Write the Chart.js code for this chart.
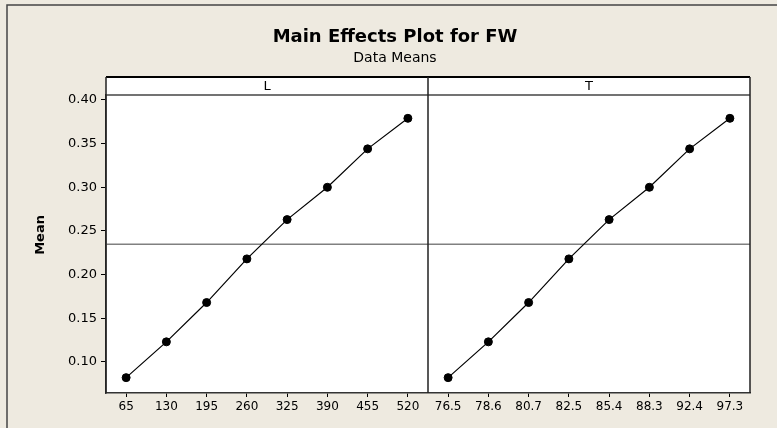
<!DOCTYPE html>
<html>
<head>
<meta charset="utf-8">
<script src="https://cdn.jsdelivr.net/npm/chart.js@4.4.0/dist/chart.umd.min.js"></script>
<style>
html, body { margin: 0; padding: 0; background: #EEEAE0; }
#wrap { width: 777px; height: 428px; }
</style>
</head>
<body>
<div id="wrap"><canvas id="grafico"></canvas></div>
<script>
// niveis de cada fator
const niveis_L = ['65', '130', '195', '260', '325', '390', '455', '520'];
const niveis_T = ['76.5', '78.6', '80.7', '82.5', '85.4', '88.3', '92.4', '97.3'];

// medias
const medias_L = [0.082, 0.123, 0.168, 0.218, 0.263, 0.300, 0.344, 0.379];
const medias_T = [0.082, 0.123, 0.168, 0.218, 0.263, 0.300, 0.344, 0.379];

const paineis = ['L', 'T'];

const vazio = niveis_L.map(() => null);
const labels = niveis_L.concat(niveis_T);
const dados_L = medias_L.concat(vazio);
const dados_T = vazio.concat(medias_T);

const todas = medias_L.concat(medias_T);
const media_geral = todas.reduce((s, v) => s + v, 0) / todas.length;

const fonte = 'DejaVu Sans';

const fundo = {
    id: 'fundo',
    beforeDraw(chart) {
        const { ctx, chartArea: a, width, height } = chart;
        ctx.save();
        ctx.fillStyle = '#EEEAE0';
        ctx.fillRect(0, 0, width, height);
        ctx.strokeStyle = '#444';
        ctx.lineWidth = 1.5;
        ctx.beginPath();
        ctx.moveTo(7, height);
        ctx.lineTo(7, 5);
        ctx.lineTo(width, 5);
        ctx.stroke();
        ctx.fillStyle = '#fff';
        ctx.fillRect(a.left, a.top, a.right - a.left, a.bottom - a.top);
        ctx.restore();
    }
};

const linha_media = {
    id: 'linha_media',
    beforeDatasetsDraw(chart) {
        const { ctx, chartArea: a } = chart;
        const y = chart.scales.y.getPixelForValue(media_geral);
        ctx.save();
        ctx.strokeStyle = '#808080';
        ctx.lineWidth = 1.5;
        ctx.beginPath();
        ctx.moveTo(a.left, y);
        ctx.lineTo(a.right, y);
        ctx.stroke();
        ctx.restore();
    }
};

const cabecalho = {
    id: 'cabecalho',
    afterDraw(chart) {
        const { ctx, chartArea: a } = chart;
        const x = chart.scales.x;
        const meio = (x.getPixelForValue(niveis_L.length - 1) + x.getPixelForValue(niveis_L.length)) / 2;
        const topo = a.top - 18;
        ctx.save();
        ctx.fillStyle = '#fff';
        ctx.fillRect(a.left, topo, a.right - a.left, 18);
        ctx.strokeStyle = '#000';
        ctx.lineWidth = 2;
        ctx.beginPath();
        ctx.moveTo(a.left, topo);
        ctx.lineTo(a.right, topo);
        ctx.stroke();
        ctx.strokeStyle = '#444';
        ctx.lineWidth = 1.5;
        ctx.beginPath();
        ctx.moveTo(a.left, a.top);
        ctx.lineTo(a.right, a.top);
        ctx.stroke();
        ctx.strokeStyle = '#222';
        ctx.lineWidth = 1.5;
        ctx.beginPath();
        ctx.moveTo(a.left, topo);
        ctx.lineTo(a.left, a.bottom);
        ctx.moveTo(meio, topo);
        ctx.lineTo(meio, a.bottom);
        ctx.moveTo(a.right, topo);
        ctx.lineTo(a.right, a.bottom);
        ctx.stroke();
        ctx.fillStyle = '#000';
        ctx.font = '13px "' + fonte + '"';
        ctx.textAlign = 'center';
        ctx.textBaseline = 'middle';
        ctx.fillText(paineis[0], (a.left + meio) / 2, topo + 9.5);
        ctx.fillText(paineis[1], (meio + a.right) / 2, topo + 9.5);
        ctx.restore();
    }
};

const config = {
    type: 'line',
    data: {
        labels: labels,
        datasets: [{
            label: paineis[0],
            data: dados_L,
            borderColor: '#000',
            backgroundColor: '#000',
            borderWidth: 1.2,
            pointRadius: 4,
            pointBorderWidth: 1,
            spanGaps: false
        }, {
            label: paineis[1],
            data: dados_T,
            borderColor: '#000',
            backgroundColor: '#000',
            borderWidth: 1.2,
            pointRadius: 4,
            pointBorderWidth: 1,
            spanGaps: false
        }]
    },
    options: {
        responsive: true,
        maintainAspectRatio: false,
        animation: false,
        layout: {
            padding: { left: 40, right: 27, top: 0, bottom: 0 }
        },
        scales: {
            x: {
                type: 'category',
                offset: true,
                grid: { offset: false, drawOnChartArea: false, tickLength: 4, color: '#000' },
                border: { color: '#333', width: 1.5 },
                ticks: {
                    autoSkip: false,
                    maxRotation: 0,
                    padding: 3,
                    color: '#000',
                    font: { size: 12, family: fonte }
                },
                afterFit(scale) { scale.height = 35; }
            },
            y: {
                min: 0.0644,
                max: 0.4057,
                grid: { drawOnChartArea: false, tickLength: 5, color: '#000' },
                border: { color: '#333', width: 1.5 },
                ticks: {
                    stepSize: 0.05,
                    includeBounds: false,
                    padding: 4,
                    color: '#000',
                    font: { size: 13, family: fonte },
                    callback: v => v.toFixed(2)
                },
                title: {
                    display: true,
                    text: '    Mean',
                    color: '#000',
                    padding: { top: -7, bottom: 0 },
                    font: { size: 13, weight: 'bold', family: fonte }
                },
                afterFit(scale) { scale.width = 66; }
            }
        },
        plugins: {
            legend: { display: false },
            tooltip: { enabled: false },
            title: {
                display: true,
                text: 'Main Effects Plot for FW',
                color: '#000',
                padding: { top: 27, bottom: 0 },
                font: { size: 18, weight: 'bold', family: fonte }
            },
            subtitle: {
                display: true,
                text: 'Data Means',
                color: '#000',
                padding: { top: 1, bottom: 28.6 },
                font: { size: 14, family: fonte }
            }
        }
    },
    plugins: [fundo, linha_media, cabecalho]
};

const grafico = new Chart(document.getElementById('grafico'), config);
</script>
</body>
</html>
